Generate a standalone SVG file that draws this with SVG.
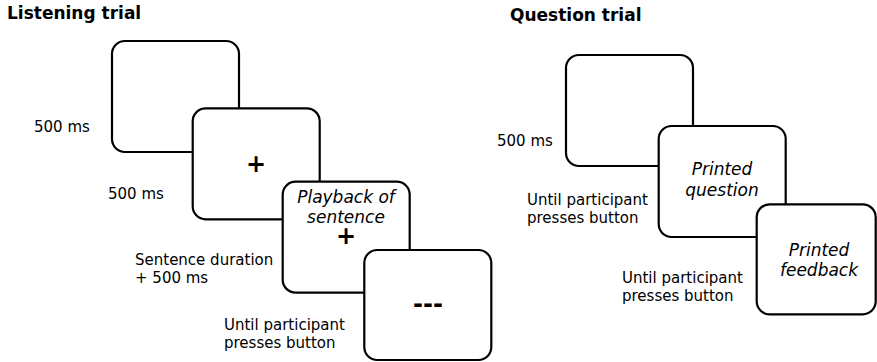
<svg xmlns="http://www.w3.org/2000/svg" width="877" height="362" viewBox="0 0 877 362">
<style>
.box{fill:#fff;stroke:#000;stroke-width:2.2}
.title{font-family:"DejaVu Sans",sans-serif;font-weight:bold;font-size:17px;fill:#000}
.lbl{font-family:"DejaVu Sans",sans-serif;font-size:15px;fill:#000}
.it{font-family:"DejaVu Sans",sans-serif;font-style:italic;font-size:17px;fill:#000;text-anchor:middle}
.sym{font-family:"DejaVu Sans",sans-serif;font-weight:bold;font-size:24px;fill:#000;text-anchor:middle}
</style>
<rect width="877" height="362" fill="#fff"/>
<g id="titles">
<text class="title" x="7" y="19">Listening trial</text>
<text class="title" x="510" y="20.5">Question trial</text>
</g>
<g id="labels">
<text class="lbl" x="34" y="132">500 ms</text>
<text class="lbl" x="108" y="199">500 ms</text>
<text class="lbl" x="135" y="265">Sentence duration</text>
<text class="lbl" x="135" y="283">+ 500 ms</text>
<text class="lbl" x="224" y="330">Until participant</text>
<text class="lbl" x="224" y="348">presses button</text>
<text class="lbl" x="497" y="146">500 ms</text>
<text class="lbl" x="527" y="205">Until participant</text>
<text class="lbl" x="527" y="223">presses button</text>
<text class="lbl" x="622" y="283">Until participant</text>
<text class="lbl" x="622" y="301">presses button</text>
</g>
<g id="blank1"><rect class="box" x="112" y="41" width="127" height="111" rx="13"/></g>
<g id="fixation"><rect class="box" x="192.7" y="108.3" width="127" height="111" rx="13"/>
<text class="sym" x="256" y="172">+</text></g>
<g id="playback"><rect class="box" x="282.7" y="181.7" width="127" height="111" rx="13"/>
<text class="it" x="346" y="202.5">Playback of</text>
<text class="it" x="346" y="223">sentence</text>
<text class="sym" x="346" y="244">+</text></g>
<g id="dashes"><rect class="box" x="364.3" y="250" width="127" height="110" rx="13"/>
<text class="sym" x="428" y="312">---</text></g>
<g id="blank2"><rect class="box" x="566" y="55" width="127" height="111" rx="13"/></g>
<g id="question"><rect class="box" x="658.7" y="126" width="127" height="111" rx="13"/>
<text class="it" x="722" y="175">Printed</text>
<text class="it" x="722" y="196">question</text></g>
<g id="feedback"><rect class="box" x="756.7" y="204.3" width="119" height="110" rx="13"/>
<text class="it" x="819" y="255.5">Printed</text>
<text class="it" x="819" y="276">feedback</text></g>
<g id="connectors"></g>
</svg>
